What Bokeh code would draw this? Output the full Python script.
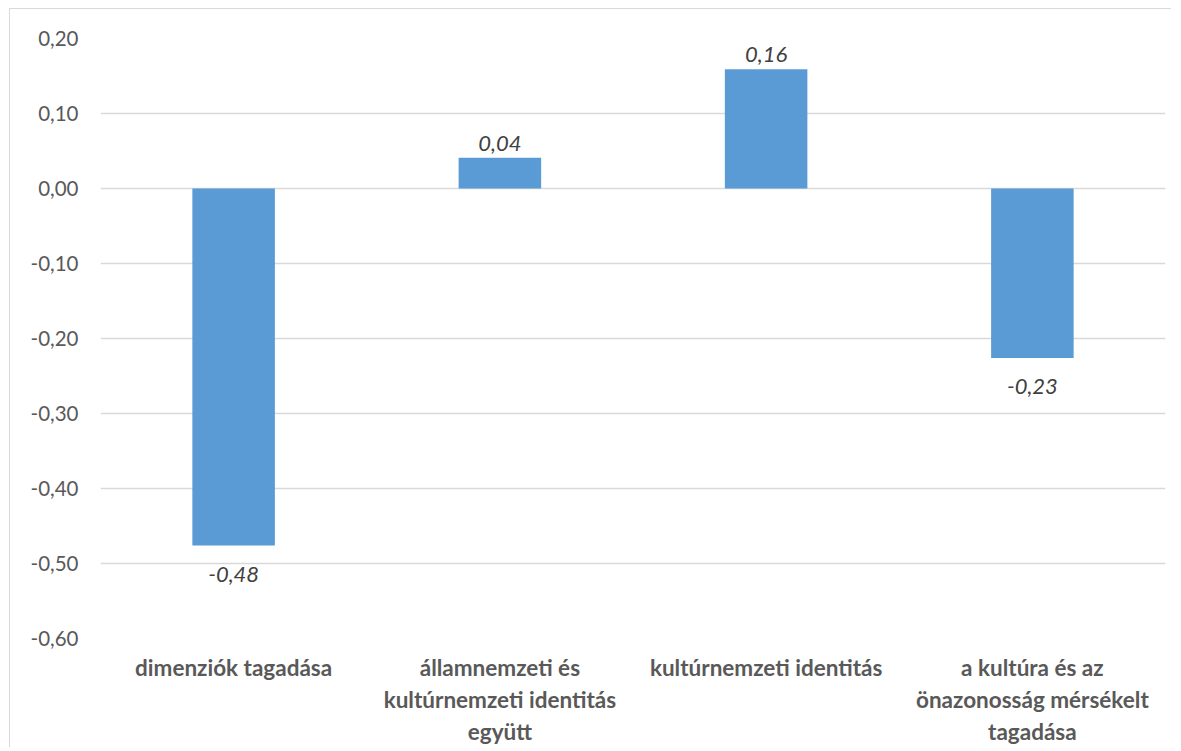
from bokeh.plotting import figure
from bokeh.models import ColumnDataSource, FactorRange, FixedTicker
from bokeh.core.properties import value
from bokeh.embed import file_html
from bokeh.resources import INLINE

categories = ["dimenziók tagadása",
              "államnemzeti és\nkultúrnemzeti identitás\negyütt",
              "kultúrnemzeti identitás",
              "a kultúra és az\nönazonosság mérsékelt\ntagadása"]
values = [-0.476, 0.041, 0.159, -0.226]
y_ticks = [-0.6, -0.5, -0.4, -0.3, -0.2, -0.1, 0.0, 0.1, 0.2]

FONT = "Lato"

def fmt(v):
    return f"{v:.2f}".replace(".", ",")

p = figure(x_range=FactorRange(*categories, range_padding=0.0), y_range=(-0.6, 0.2),
           width=1162, height=739, output_backend="svg", toolbar_location=None,
           min_border_left=90, min_border_top=29, min_border_bottom=105, min_border_right=7)
p.styles = {"border-left": "1px solid #D9D9D9", "border-top": "1px solid #D9D9D9",
            "margin-left": "9px", "margin-top": "8px"}
p.outline_line_color = None
p.background_fill_color = "white"

src = ColumnDataSource(dict(x=categories, top=values))
p.vbar(x="x", top="top", bottom=0, width=0.31, source=src, fill_color="#5B9BD5", line_color=None)

pos = [i for i, v in enumerate(values) if v >= 0]
neg = [i for i, v in enumerate(values) if v < 0]
p.text(x=[categories[i] for i in pos], y=[values[i] for i in pos], text=[fmt(values[i]) for i in pos],
       text_align="center", text_baseline="bottom", y_offset=-7,
       text_font=value(FONT), text_font_style="italic", text_font_size="22px", text_color="#404040")
p.text(x=[categories[i] for i in neg], y=[values[i] for i in neg], text=[fmt(values[i]) for i in neg],
       text_align="center", text_baseline="top", y_offset=21,
       text_font=value(FONT), text_font_style="italic", text_font_size="22px", text_color="#404040")

p.yaxis.ticker = FixedTicker(ticks=y_ticks)
p.yaxis.major_label_overrides = {t: fmt(t) for t in y_ticks}
p.ygrid.ticker = FixedTicker(ticks=y_ticks)
p.ygrid.grid_line_color = "#D9D9D9"
p.ygrid.grid_line_width = 1.5
p.xgrid.grid_line_color = None

for ax in (p.xaxis, p.yaxis):
    ax.axis_line_color = None
    ax.major_tick_line_color = None
    ax.minor_tick_line_color = None
    ax.major_tick_out = 0
    ax.major_tick_in = 0
    ax.major_label_text_font = FONT
    ax.major_label_text_color = "#595959"
    ax.major_label_text_font_size = "20.5px"

p.yaxis.major_label_standoff = 22
p.xaxis.major_label_text_font_style = "bold"
p.xaxis.major_label_text_font_size = "22.5px"
p.xaxis.major_label_standoff = 15
p.xaxis.major_label_orientation = "horizontal"

open("out.html", "w").write(file_html(p, INLINE))
